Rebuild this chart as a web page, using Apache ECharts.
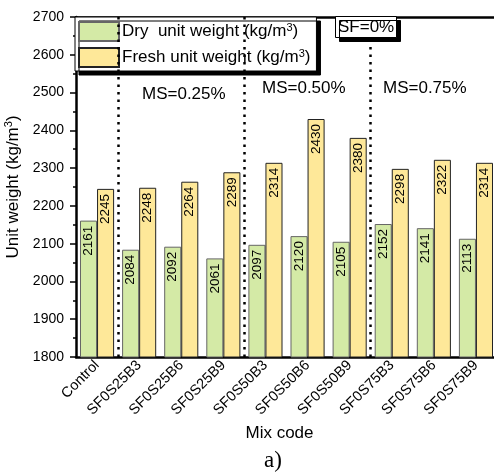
<!DOCTYPE html>
<html>
<head>
<meta charset="utf-8">
<script src="https://cdn.jsdelivr.net/npm/echarts@6/dist/echarts.min.js"></script>
<style>
  html, body { margin: 0; padding: 0; background: #fff; }
  #chart { width: 494px; height: 474px; }
</style>
</head>
<body>
<div id="chart"></div>
<script>
// Mix codes and measured unit weights (kg/m3)
var categories = ['Control', 'SF0S25B3', 'SF0S25B6', 'SF0S25B9', 'SF0S50B3',
                  'SF0S50B6', 'SF0S50B9', 'SF0S75B3', 'SF0S75B6', 'SF0S75B9'];
var dryWeight   = [2161, 2084, 2092, 2061, 2097, 2120, 2105, 2152, 2141, 2113];
var freshWeight = [2245, 2248, 2264, 2289, 2314, 2430, 2380, 2298, 2322, 2314];

// group boundaries (measured in category slots from the left edge)
var groupBreaks = [1, 4, 7];
var groupLabels = ['MS=0.25%', 'MS=0.50%', 'MS=0.75%'];

var yMin = 1800, yMax = 2700, yStep = 100;

var FONT = '"Liberation Sans", Arial, sans-serif';
var chart = echarts.init(document.getElementById('chart'));

var supRich = {
  sup: { fontSize: 11, verticalAlign: 'top', padding: [0, 0, 8, 0], fontFamily: FONT, color: '#000' }
};

var barLabel = {
  show: true, position: 'insideTop', rotate: 90, align: 'right', verticalAlign: 'middle',
  distance: 5, fontSize: 13.5, color: '#000', fontFamily: FONT
};

chart.setOption({
  animation: false,
  textStyle: { fontFamily: FONT },
  grid: { left: 76, right: -3, top: 17, bottom: 117, containLabel: false, outerBoundsMode: 'none' },
  legend: {
    orient: 'vertical',
    left: 75, top: 17,
    padding: [4, 6, 3, 3],
    icon: 'rect',
    itemWidth: 40, itemHeight: 19, itemGap: 5,
    backgroundColor: '#fff',
    borderColor: '#000', borderWidth: 1,
    shadowColor: '#000', shadowBlur: 0, shadowOffsetX: 4, shadowOffsetY: 4,
    textStyle: { fontSize: 17, color: '#000', fontFamily: FONT, rich: supRich, padding: [0, 0, 0, -2] },
    formatter: function (name) {
      return name === 'dry' ? 'Dry  unit weight (kg/m{sup|3})' : 'Fresh unit weight (kg/m{sup|3})';
    },
    data: ['dry', 'fresh']
  },
  title: {
    text: 'SF=0%',
    left: 335, top: 16,
    padding: [3, 3, 2, 3],
    backgroundColor: '#fff',
    borderColor: '#000', borderWidth: 1,
    shadowColor: '#000', shadowBlur: 0, shadowOffsetX: 4, shadowOffsetY: 4,
    textStyle: { fontSize: 17, fontWeight: 'normal', color: '#000', fontFamily: FONT }
  },
  xAxis: [{
    type: 'category',
    data: categories,
    name: 'Mix code',
    nameLocation: 'middle',
    nameGap: 62,
    nameTextStyle: { fontSize: 17, color: '#000', fontFamily: FONT, padding: [0, 14, 0, 0] },
    axisLine: { lineStyle: { color: '#000', width: 2.5 } },
    axisTick: { alignWithLabel: true, length: 6, lineStyle: { width: 1.5, color: '#000' } },
    axisLabel: { rotate: 45, fontSize: 14.5, color: '#000', fontFamily: FONT, margin: 6, interval: 0 }
  }, {
    // slot-based axis sharing the plot, used for the frame top and group dividers
    type: 'value',
    position: 'top',
    min: 0, max: categories.length,
    axisLine: { show: true, onZero: false, lineStyle: { color: '#000', width: 2.5 } },
    axisTick: { show: false },
    axisLabel: { show: false },
    splitLine: { show: false }
  }],
  yAxis: {
    type: 'value',
    min: yMin, max: yMax, interval: yStep,
    name: 'Unit weight (kg/m{sup|3})',
    nameLocation: 'middle',
    nameGap: 46,
    nameTextStyle: { fontSize: 17, color: '#000', fontFamily: FONT, rich: supRich },
    axisLine: { show: true, lineStyle: { color: '#000', width: 2.5 } },
    axisTick: { show: true, length: 6, lineStyle: { width: 1.5, color: '#000' } },
    minorTick: { show: true, splitNumber: 2, length: 3, lineStyle: { width: 1.5, color: '#000' } },
    axisLabel: { fontSize: 14, color: '#000', fontFamily: FONT, margin: 12, formatter: function (v) { return String(v); } },
    splitLine: { show: false }
  },
  series: [{
    name: 'dry',
    type: 'bar',
    data: dryWeight,
    barGap: '0%',
    barCategoryGap: '19%',
    itemStyle: { color: '#d4eaa6', borderColor: '#666', borderWidth: 1 },
    label: Object.assign({ formatter: function (p) { return String(p.value); } }, barLabel)
  }, {
    name: 'fresh',
    type: 'bar',
    data: freshWeight,
    itemStyle: { color: '#fee899', borderColor: '#222', borderWidth: 1 },
    label: Object.assign({ formatter: function (p) { return String(p.value); } }, barLabel)
  }, {
    name: 'dividers',
    type: 'line',
    xAxisIndex: 1,
    data: [],
    silent: true,
    markLine: {
      symbol: ['none', 'none'],
      silent: true,
      label: { show: false },
      lineStyle: { color: '#000', width: 2.5, type: [2.5, 5] },
      data: groupBreaks.map(function (v) { return { xAxis: v }; })
    }
  }],
  graphic: [
    { type: 'text', left: 142, top: 86, style: { text: groupLabels[0], fontSize: 17, fill: '#000', fontFamily: FONT } },
    { type: 'text', left: 262, top: 80, style: { text: groupLabels[1], fontSize: 17, fill: '#000', fontFamily: FONT } },
    { type: 'text', left: 383, top: 80, style: { text: groupLabels[2], fontSize: 17, fill: '#000', fontFamily: FONT } },
    { type: 'text', left: 264, top: 449, style: { text: 'a)', fontSize: 23, fill: '#000', fontFamily: '"Liberation Serif", "Times New Roman", serif' } }
  ]
});
</script>
</body>
</html>
